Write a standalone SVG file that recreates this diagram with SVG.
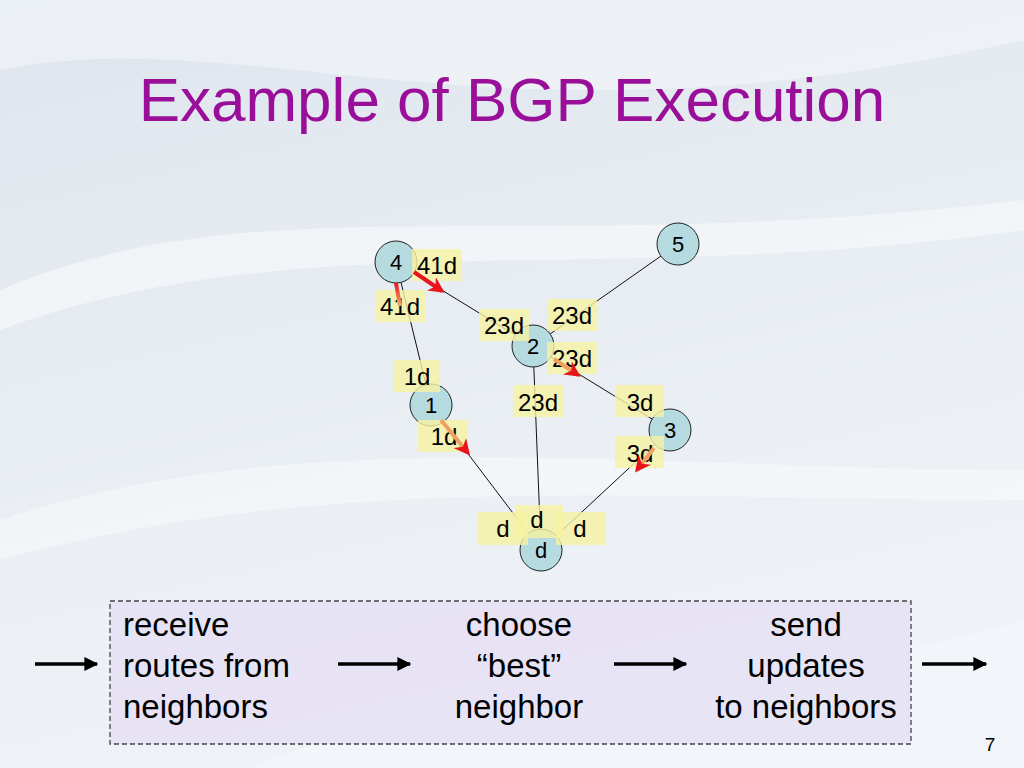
<svg xmlns="http://www.w3.org/2000/svg" width="1024" height="768" viewBox="0 0 1024 768">
<defs>
<linearGradient id="bg" x1="0" y1="0" x2="0.3" y2="1">
<stop offset="0" stop-color="#dfe5ed"/>
<stop offset="0.5" stop-color="#e8edf3"/>
<stop offset="1" stop-color="#eff3f7"/>
</linearGradient>
<marker id="rh" viewBox="0 0 10 10" refX="8" refY="5" markerWidth="4" markerHeight="4" orient="auto" markerUnits="strokeWidth">
<path d="M0,0 L10,5 L0,10 L3,5 Z" fill="#e8141c"/>
</marker>
<marker id="bh" viewBox="0 0 10 10" refX="9" refY="5" markerWidth="4" markerHeight="4" orient="auto" markerUnits="strokeWidth">
<path d="M0,0 L10,5 L0,10 Z" fill="#000"/>
</marker>
<linearGradient id="g41" gradientUnits="userSpaceOnUse" x1="396" y1="283" x2="400" y2="305">
<stop offset="0" stop-color="#e8141c"/><stop offset="1" stop-color="#f2a868"/>
</linearGradient>
</defs>
<style>
.lbl{fill:#f6f2a2;fill-opacity:0.8}
.t{font-family:"Liberation Sans",Arial,sans-serif;fill:#000}
.n{fill:#b5dbe0;stroke:#222;stroke-width:1}
.e{stroke:#111;stroke-width:1;fill:none}
.ar{stroke-width:4;fill:none;marker-end:url(#rh)}
.big{stroke:#000;stroke-width:3.5;marker-end:url(#bh)}
</style>
<rect width="1024" height="768" fill="url(#bg)"/>
<path d="M0,70 C250,20 500,160 1024,40 L1024,0 L0,0 Z" fill="#f4f7fa" opacity="0.6"/>
<path d="M0,290 C260,180 520,260 1024,200 L1024,230 C600,290 300,220 0,330 Z" fill="#ffffff" opacity="0.45"/>
<path d="M0,520 C300,420 650,470 1024,470 L1024,500 C650,500 330,470 0,560 Z" fill="#ffffff" opacity="0.4"/>
<path d="M250,768 C450,680 750,700 1024,620 L1024,768 Z" fill="#f6f8fb" opacity="0.5"/>

<text class="t" x="512" y="121" font-size="62" text-anchor="middle" style="fill:#990f99">Example of BGP Execution</text>

<g id="connectors">
<line class="e" x1="396" y1="262" x2="533" y2="346"/>
<line class="e" x1="678" y1="244" x2="533" y2="346"/>
<line class="e" x1="396" y1="262" x2="431" y2="405"/>
<line class="e" x1="533" y1="346" x2="670" y2="430"/>
<line class="e" x1="533" y1="346" x2="541" y2="550"/>
<line class="e" x1="431" y1="405" x2="541" y2="550"/>
<line class="e" x1="670" y1="430" x2="541" y2="550"/>
</g>

<g id="node-4"><circle class="n" cx="396" cy="262" r="21"/><text class="t" x="396" y="270" font-size="22" text-anchor="middle">4</text></g>
<g id="node-5"><circle class="n" cx="678" cy="244" r="21"/><text class="t" x="678" y="252" font-size="22" text-anchor="middle">5</text></g>
<g id="node-2"><circle class="n" cx="533" cy="346" r="21"/><text class="t" x="533" y="354" font-size="22" text-anchor="middle">2</text></g>
<g id="node-1"><circle class="n" cx="431" cy="405" r="21"/><text class="t" x="431" y="413" font-size="22" text-anchor="middle">1</text></g>
<g id="node-3"><circle class="n" cx="670" cy="430" r="21"/><text class="t" x="670" y="438" font-size="22" text-anchor="middle">3</text></g>
<g id="node-d"><circle class="n" cx="541" cy="550" r="21"/><text class="t" x="541" y="558" font-size="22" text-anchor="middle">d</text></g>

<g id="labels" font-size="24">
<rect class="lbl" x="412" y="249" width="50" height="32"/><text class="t" x="437" y="274" text-anchor="middle">41d</text>
<rect class="lbl" x="376" y="290" width="49" height="32"/><text class="t" x="400" y="315" text-anchor="middle">41d</text>
<rect class="lbl" x="479" y="309" width="50" height="32"/><text class="t" x="504" y="334" text-anchor="middle">23d</text>
<rect class="lbl" x="547" y="299" width="50" height="32"/><text class="t" x="572" y="324" text-anchor="middle">23d</text>
<rect class="lbl" x="547" y="342" width="50" height="32"/><text class="t" x="572" y="367" text-anchor="middle">23d</text>
<rect class="lbl" x="393" y="360" width="47" height="32"/><text class="t" x="417" y="385" text-anchor="middle">1d</text>
<rect class="lbl" x="513" y="385" width="50" height="32"/><text class="t" x="538" y="411" text-anchor="middle">23d</text>
<rect class="lbl" x="615" y="385" width="49" height="32"/><text class="t" x="640" y="411" text-anchor="middle">3d</text>
<rect class="lbl" x="418" y="420" width="50" height="32"/><text class="t" x="444" y="445" text-anchor="middle">1d</text>
<rect class="lbl" x="615" y="436" width="49" height="32"/><text class="t" x="640" y="462" text-anchor="middle">3d</text>
<rect class="lbl" x="478" y="512" width="50" height="33"/><text class="t" x="503" y="537" text-anchor="middle">d</text>
<rect class="lbl" x="515" y="505" width="48" height="33"/><text class="t" x="537" y="528" text-anchor="middle">d</text>
<rect class="lbl" x="556" y="512" width="50" height="33"/><text class="t" x="580" y="537" text-anchor="middle">d</text>
</g>

<g id="route-arrows">
<line class="ar" stroke="#e8141c" x1="414" y1="272" x2="442" y2="291"/>
<line stroke="url(#g41)" stroke-width="4" x1="396" y1="283" x2="400" y2="306"/>
<line class="ar" stroke="#f2a060" x1="554" y1="359" x2="578" y2="375"/>
<line class="ar" stroke="#f2a060" x1="441" y1="420" x2="468" y2="453"/>
<line class="ar" stroke="#f2a060" x1="654" y1="448" x2="637" y2="470"/>
</g>

<g id="process-box">
<rect x="110" y="601" width="801" height="143" fill="#e5e0f4" fill-opacity="0.85" stroke="#444" stroke-width="1.3" stroke-dasharray="5,3"/>
<g font-size="33">
<text class="t" x="123" y="636">receive</text>
<text class="t" x="123" y="677">routes from</text>
<text class="t" x="123" y="718">neighbors</text>
<text class="t" x="519" y="636" text-anchor="middle">choose</text>
<text class="t" x="519" y="677" text-anchor="middle">“best”</text>
<text class="t" x="519" y="718" text-anchor="middle">neighbor</text>
<text class="t" x="806" y="636" text-anchor="middle">send</text>
<text class="t" x="806" y="677" text-anchor="middle">updates</text>
<text class="t" x="806" y="718" text-anchor="middle">to neighbors</text>
</g>
</g>
<g id="flow-arrows">
<line class="big" x1="35" y1="664" x2="97" y2="664"/>
<line class="big" x1="338" y1="664" x2="410" y2="664"/>
<line class="big" x1="614" y1="664" x2="686" y2="664"/>
<line class="big" x1="922" y1="664" x2="986" y2="664"/>
</g>
<text class="t" x="990" y="751" font-size="19" text-anchor="middle">7</text>
</svg>
